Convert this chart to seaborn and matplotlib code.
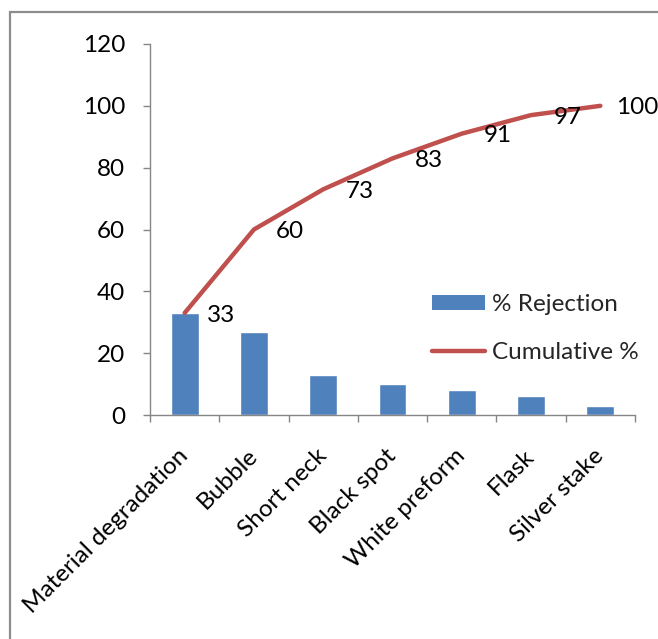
import numpy as np
import matplotlib
matplotlib.use("Agg")
import matplotlib.pyplot as plt
from matplotlib.patches import Rectangle, Patch
from matplotlib.lines import Line2D
import seaborn as sns

categories = ["Material degradation", "Bubble", "Short neck", "Black spot",
              "White preform", "Flask", "Silver stake"]
rejection = [33, 27, 13, 10, 8, 6, 3]
cumulative = [33, 60, 73, 83, 91, 97, 100]
y_ticks = [0, 20, 40, 60, 80, 100, 120]

bar_color = "#4F81BD"
line_color = "#C0504D"
axis_color = "#868686"

sns.set_theme(style="white")
plt.rcParams["font.family"] = ["Lato", "DejaVu Sans"]
FS = 17.5

fig = plt.figure(figsize=(6.58, 6.39), dpi=100)
ax = fig.add_axes([150 / 658, 1 - 415 / 639, 485 / 658, 371 / 639])

x = np.arange(len(categories))
sns.barplot(x=categories, y=rejection, color=bar_color, width=0.4,
            saturation=1, ax=ax)
sns.lineplot(x=x, y=cumulative, color=line_color, linewidth=3.2, ax=ax,
             solid_capstyle="round")

# value labels next to each cumulative point
for i, v in enumerate(cumulative):
    dx = 16 if i < len(cumulative) - 1 else 11
    ax.annotate(str(v), (x[i], v), xytext=(dx, -1.5), textcoords="offset points",
                ha="left", va="center", fontsize=FS, color="black")

ax.set_xlim(-0.5, len(categories) - 0.5)
ax.set_ylim(0, 120)
ax.set_yticks(y_ticks)
ax.set_yticklabels([str(t) for t in y_ticks], fontsize=FS, color="black")
ax.tick_params(axis="y", left=True, length=5, width=1, color=axis_color, pad=13)

ax.set_xticks(x)
ax.set_xticks(np.arange(len(categories) + 1) - 0.5, minor=True)
ax.set_xticklabels(categories, rotation=45, ha="right", va="center",
                   rotation_mode="anchor", fontsize=FS, color="black")
ax.tick_params(axis="x", which="major", bottom=True, length=0, pad=27)
ax.tick_params(axis="x", which="minor", bottom=True, length=5, width=1,
               color=axis_color)
ax.set_xlabel("")
ax.set_ylabel("")

for side in ["top", "right"]:
    ax.spines[side].set_visible(False)
for side in ["left", "bottom"]:
    ax.spines[side].set_color(axis_color)
    ax.spines[side].set_linewidth(1)

handles = [Patch(facecolor=bar_color, edgecolor="none"),
           Line2D([0], [0], color=line_color, linewidth=3.2, solid_capstyle="round")]
fig.legend(handles, ["% Rejection", "Cumulative %"], loc="upper left",
           bbox_to_anchor=(432 / 658, 1 - 294 / 639), frameon=False,
           fontsize=FS, handlelength=2.2, handleheight=0.62,
           handletextpad=0.25, labelspacing=1.12, borderpad=0, borderaxespad=0)

# chart area frame
fig.patches.append(Rectangle((9.5 / 658, -0.1), 1.2, 1 - 11.5 / 639 + 0.1,
                             transform=fig.transFigure, fill=False,
                             edgecolor="#8c8c8c", linewidth=1.6))

fig.savefig("out.png", dpi=100)
